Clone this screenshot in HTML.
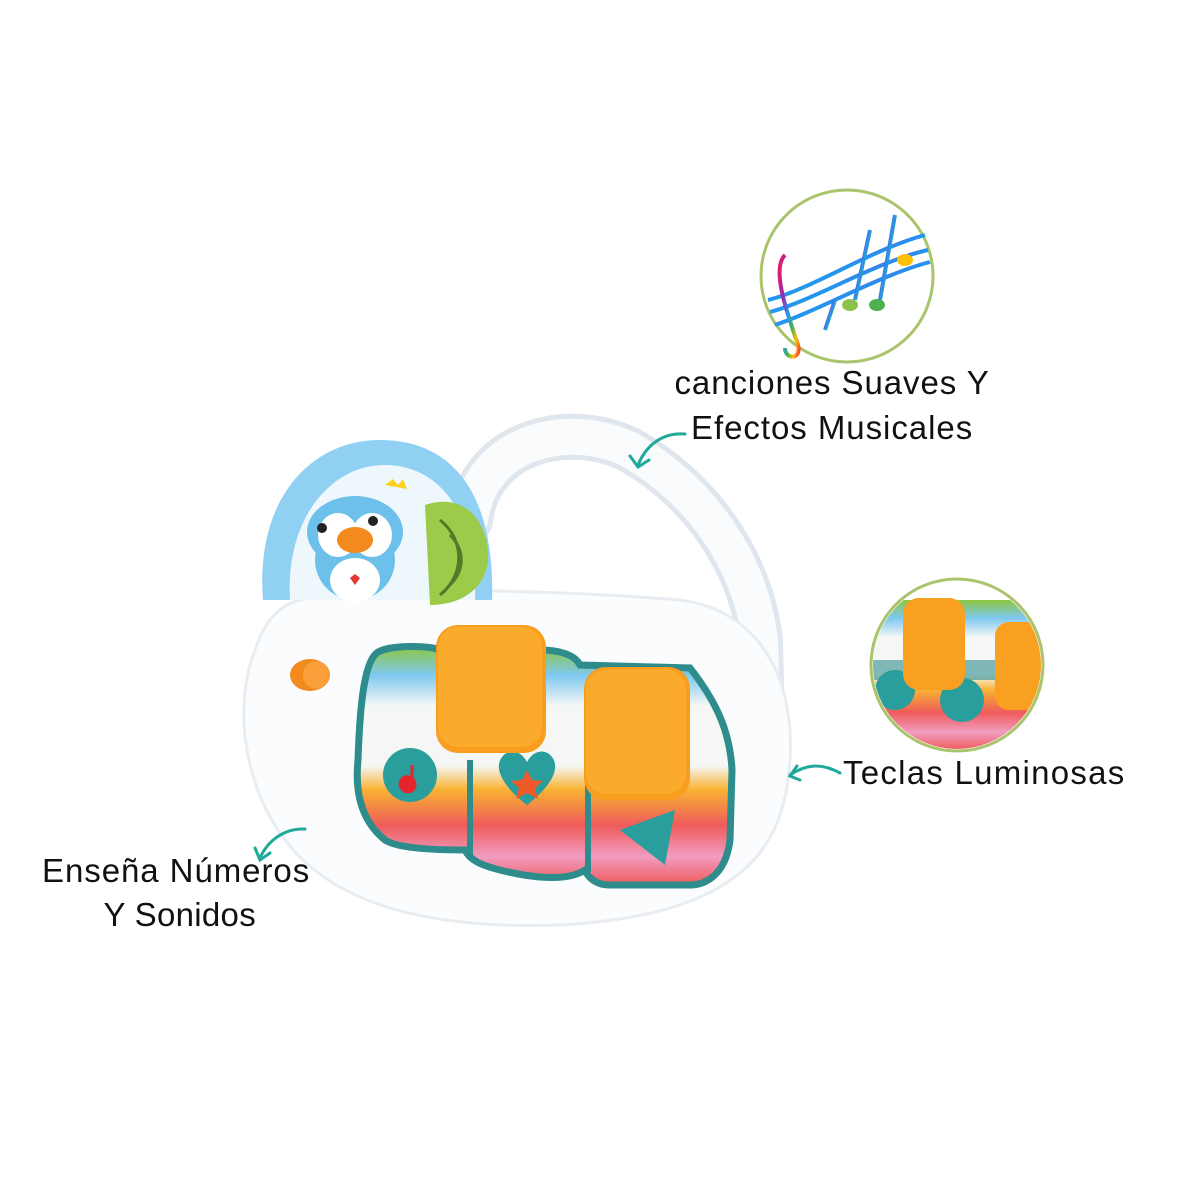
<!DOCTYPE html>
<html><head><meta charset="utf-8"><style>
html,body{margin:0;padding:0;background:#fff;}
svg{display:block}
text{font-family:"Liberation Sans",sans-serif;fill:#111;letter-spacing:0.8px;}
</style></head><body>
<svg width="1200" height="1200" viewBox="0 0 1200 1200" xmlns="http://www.w3.org/2000/svg">
<defs>
<linearGradient id="rb" x1="0" y1="0" x2="1" y2="1">
<stop offset="0" stop-color="#e91e63"/><stop offset="0.3" stop-color="#9c27b0"/><stop offset="0.5" stop-color="#2196f3"/><stop offset="0.7" stop-color="#4caf50"/><stop offset="0.85" stop-color="#ffc107"/><stop offset="1" stop-color="#f44336"/></linearGradient>
<linearGradient id="kb" x1="0" y1="0" x2="0" y2="1">
<stop offset="0" stop-color="#8cc63f"/><stop offset="0.12" stop-color="#7ec8f0"/><stop offset="0.25" stop-color="#f5f7f5"/><stop offset="0.5" stop-color="#f5f7f5"/><stop offset="0.6" stop-color="#f9b233"/><stop offset="0.75" stop-color="#ef5b5b"/><stop offset="0.88" stop-color="#f19cc0"/><stop offset="1" stop-color="#ef5b5b"/></linearGradient>
</defs>
<!-- handle -->
<path d="M470,520 C480,440 570,420 630,450 C700,490 750,560 760,640 L762,720" fill="none" stroke="#dfe6ee" stroke-width="46" stroke-linecap="round"/>
<path d="M470,520 C480,440 570,420 630,450 C700,490 750,560 760,640 L762,720" fill="none" stroke="#fafbfd" stroke-width="36" stroke-linecap="round"/>
<!-- body -->
<path d="M300,600 C360,585 560,590 680,600 C760,610 795,680 790,760 C785,850 740,915 560,925 C420,930 330,900 285,840 C240,780 235,700 255,650 C265,620 280,605 300,600 Z" fill="#fbfcfd" stroke="#e8edf2" stroke-width="3"/>
<!-- dome -->
<path d="M263,600 C255,500 310,440 380,440 C450,440 495,490 492,600 Z" fill="#8fd0f3"/>
<path d="M290,600 C285,520 330,465 385,465 C440,465 478,515 475,600 Z" fill="#eef7fb"/>
<path d="M425,505 C470,490 490,530 488,560 C485,590 460,605 430,605 Z" fill="#9ccb4a"/>
<g fill="none" stroke="#4f7a2a" stroke-width="3"><path d="M440,520 C465,540 465,575 440,595"/><path d="M450,535 C465,550 465,570 450,585"/></g>
<!-- penguin -->
<ellipse cx="355" cy="560" rx="40" ry="40" fill="#6cc0ea"/>
<ellipse cx="355" cy="532" rx="48" ry="36" fill="#6cc0ea"/>
<ellipse cx="338" cy="535" rx="20" ry="22" fill="#fff"/>
<ellipse cx="372" cy="535" rx="20" ry="22" fill="#fff"/>
<circle cx="322" cy="528" r="5" fill="#222"/><circle cx="373" cy="521" r="5" fill="#222"/>
<ellipse cx="355" cy="540" rx="18" ry="13" fill="#f28a1e"/>
<ellipse cx="355" cy="580" rx="25" ry="22" fill="#fff"/>
<path d="M350,578 l5,-4 5,4 -5,7 z" fill="#e53935"/>
<path d="M385,485 l8,-6 5,6 5,-6 4,10 z" fill="#ffd21f"/>
<!-- switch -->
<ellipse cx="310" cy="675" rx="20" ry="16" fill="#f28a1e"/>
<ellipse cx="316" cy="675" rx="13" ry="14" fill="#f9a03a"/>
<!-- keyboard panel -->
<path d="M378,652 C390,645 430,645 440,650 L540,650 C560,650 575,655 580,665 L690,668 C715,700 730,730 732,770 L730,840 C725,880 700,885 690,885 L610,885 C590,885 585,870 585,870 C570,880 540,880 500,870 C480,865 470,860 465,850 C450,850 400,850 385,840 C360,820 355,790 358,760 C360,700 365,660 378,652 Z" fill="url(#kb)" stroke="#2e8c8c" stroke-width="7"/>
<line x1="470" y1="760" x2="470" y2="855" stroke="#2e8c8c" stroke-width="6"/>
<line x1="588" y1="765" x2="588" y2="872" stroke="#2e8c8c" stroke-width="6"/>
<circle cx="410" cy="775" r="27" fill="#2a9d9d"/><path d="M400,785 c0,-12 15,-10 15,0 c0,8 -12,10 -15,0z M412,765 l0,18" fill="#e3262d" stroke="#e3262d" stroke-width="3"/>
<path d="M527,805 c-20,-15 -35,-35 -25,-48 c8,-10 20,-5 25,5 c5,-10 17,-15 25,-5 c10,13 -5,33 -25,48z" fill="#2a9d9d"/>
<path d="M527,770 l5,10 11,1 -8,7 3,11 -11,-6 -11,6 3,-11 -8,-7 11,-1z" fill="#f05a28"/>
<path d="M620,830 L675,810 L665,865 Z" fill="#2a9d9d"/>
<!-- keys -->
<rect x="436" y="625" width="110" height="128" rx="22" fill="#f89d1d"/>
<rect x="438" y="627" width="104" height="120" rx="20" fill="#fbab2c"/>
<rect x="584" y="667" width="106" height="133" rx="22" fill="#f89d1d"/>
<rect x="586" y="669" width="100" height="125" rx="20" fill="#fbab2c"/>
<!-- circle 1 -->
<circle cx="847" cy="276" r="86" fill="#fff" stroke="#a9c46a" stroke-width="3"/>
<g fill="none" stroke="url(#rb)" stroke-width="4">
<path d="M768,300 C810,290 870,250 925,235"/><path d="M770,312 C815,300 875,262 928,250"/><path d="M775,325 C820,310 880,275 930,262"/>
<path d="M785,255 C770,270 790,320 798,345 C802,360 785,360 785,348"/>
<line x1="855" y1="300" x2="870" y2="230"/><line x1="880" y1="300" x2="895" y2="215"/><line x1="825" y1="330" x2="835" y2="300"/>
</g>
<ellipse cx="850" cy="305" rx="8" ry="6" fill="#8bc34a"/><ellipse cx="877" cy="305" rx="8" ry="6" fill="#4caf50"/><ellipse cx="905" cy="260" rx="8" ry="6" fill="#ffc107"/>
<!-- circle 2 -->
<clipPath id="c2"><circle cx="957" cy="665" r="84"/></clipPath>
<circle cx="957" cy="665" r="86" fill="#fff"/>
<g clip-path="url(#c2)">
<rect x="870" y="600" width="180" height="150" fill="url(#kb)"/>
<rect x="870" y="660" width="180" height="20" fill="#2e8c8c" opacity="0.6"/>
<circle cx="895" cy="690" r="20" fill="#2a9d9d"/><circle cx="962" cy="700" r="22" fill="#2a9d9d"/>
<rect x="903" y="598" width="62" height="92" rx="16" fill="#f9a020"/>
<rect x="995" y="622" width="50" height="88" rx="14" fill="#f9a020"/>
</g>
<circle cx="957" cy="665" r="86" fill="none" stroke="#a9c46a" stroke-width="3"/>
<!-- labels -->
<text x="832" y="394" font-size="33" text-anchor="middle" textLength="315">canciones Suaves Y</text>
<text x="832" y="439" font-size="33" text-anchor="middle" textLength="282">Efectos Musicales</text>
<text x="843" y="784" font-size="33" textLength="282">Teclas Luminosas</text>
<text x="176" y="882" font-size="33" text-anchor="middle" textLength="268">Enseña Números</text>
<text x="180" y="926" font-size="33" text-anchor="middle" textLength="153">Y Sonidos</text>
<!-- arrows -->
<g fill="none" stroke="#1fa99a" stroke-width="3" stroke-linecap="round">
<path d="M685,434 C660,432 645,448 638,465"/><path d="M630,456 L638,467 L649,460"/>
<path d="M840,773 C820,762 805,765 790,775"/><path d="M797,766 L790,776 L800,780"/>
<path d="M305,829 C285,828 268,840 260,858"/><path d="M255,848 L260,860 L270,853"/>
</g>
</svg>
</body></html>
